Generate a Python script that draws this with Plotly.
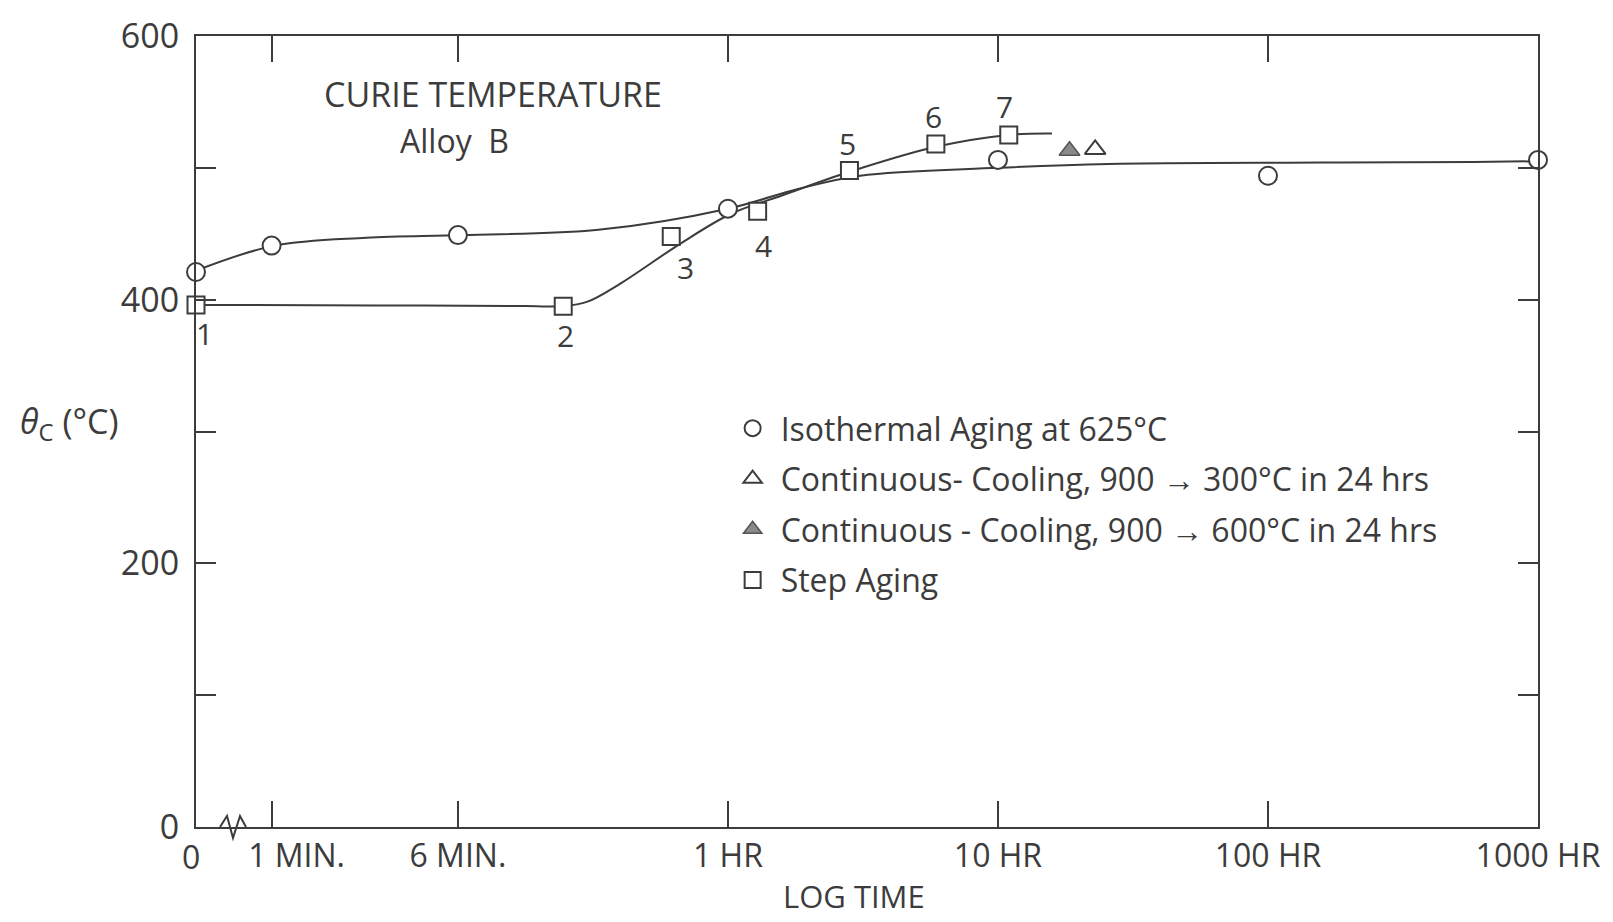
import plotly.graph_objects as go

# ---------------- data ----------------
# x axis is log10(time in hours); the origin "0" and "1 MIN." sit on a broken scale
x_tick_pos = [-1.97, -1.69, -1.0, 0.0, 1.0, 2.0, 3.0]
x_tick_text = ["0", "\u00a0\u00a0\u00a0\u00a0\u00a0\u00a01 MIN.", "6 MIN.", "1 HR", "10 HR", "100 HR", "1000 HR"]
y_tick_vals = [0, 200, 400, 600]
y_tick_text = ["0", "200", "400", "600"]
y_minor_step = 100

# Isothermal aging at 625 C (open circles)
iso_x = [-1.97, -1.69, -1.0, 0.0, 1.0, 2.0, 3.0]
iso_y = [421, 441, 449, 469, 506, 494, 506]

# Step aging (open squares), numbered 1..7
step_x = [-1.97, -0.61, -0.21, 0.11, 0.45, 0.77, 1.04]
step_y = [396, 395, 448, 467, 498, 518, 525]
step_labels = ["1", "2", "3", "4", "5", "6", "7"]

# Continuous cooling, 900 -> 300 C in 24 hrs (open triangle)
cc300_x = [1.36]
cc300_y = [514]
# Continuous cooling, 900 -> 600 C in 24 hrs (filled triangle)
cc600_x = [1.265]
cc600_y = [513]

# hand-drawn trend curves
iso_curve_x = [-1.97, -1.68, -1.34, -0.98, -0.48, 0.0, 0.26, 0.49, 1.0, 1.41, 2.2, 2.76, 3.0]
iso_curve_y = [422, 441, 447, 449, 453, 469, 484, 494, 500, 503, 504, 504.5, 505]
step_curve_x = [-1.97, -1.3, -0.75, -0.61, -0.52, -0.40, -0.18, 0.01, 0.20, 0.45, 0.77, 1.04, 1.20]
step_curve_y = [396, 395.6, 395.2, 395, 398.5, 412, 442, 465, 479, 497, 516, 525, 526]

# ---------------- styling ----------------
INK = "#3c3c3c"
FONT = "Open Sans"
W, H = 1613, 922
ML, MR, MT, MB = 196, 69, 27, 95
PW, PH = W - ML - MR, H - MT - MB


def px_x(px):
    return (px - ML) / PW


def px_y(py):
    return (H - MB - py) / PH


fig = go.Figure()

line_style = dict(color=INK, width=2, shape="spline", smoothing=1.0)
fig.add_trace(go.Scatter(x=iso_curve_x, y=iso_curve_y, mode="lines", line=line_style,
                         showlegend=False, hoverinfo="skip", cliponaxis=False))
fig.add_trace(go.Scatter(x=step_curve_x, y=step_curve_y, mode="lines", line=line_style,
                         showlegend=False, hoverinfo="skip", cliponaxis=False))

mk_line = dict(color=INK, width=2)
fig.add_trace(go.Scatter(x=iso_x, y=iso_y, mode="markers", name="Isothermal Aging at 625°C",
                         legendgroup="a", cliponaxis=False,
                         marker=dict(symbol="circle", size=18, color="white", line=mk_line)))
fig.add_trace(go.Scatter(x=cc300_x, y=cc300_y, mode="markers",
                         name="Continuous- Cooling, 900 → 300°C in 24 hrs", legendgroup="b",
                         cliponaxis=False,
                         marker=dict(symbol="triangle-up", size=18, color="white", line=mk_line)))
fig.add_trace(go.Scatter(x=cc600_x, y=cc600_y, mode="markers",
                         name="Continuous - Cooling, 900 → 600°C in 24 hrs", legendgroup="c",
                         cliponaxis=False,
                         marker=dict(symbol="triangle-up", size=18, color="#8a8a8a",
                                     line=dict(color="#555", width=1.5))))
fig.add_trace(go.Scatter(x=step_x, y=step_y, mode="markers", name="Step Aging", legendgroup="d",
                         cliponaxis=False,
                         marker=dict(symbol="square", size=17, color="white", line=mk_line)))

# number labels next to the step-aging squares (pixel offsets)
label_offsets = [(8, -29), (2, -29), (14, -31), (6, -34), (-2, 27), (-2, 28), (-4, 28)]
for xv, yv, t, (dx, dy) in zip(step_x, step_y, step_labels, label_offsets):
    fig.add_annotation(x=xv, y=yv, text=t, showarrow=False, xshift=dx, yshift=dy,
                       xanchor="center", yanchor="middle",
                       font=dict(size=30, color=INK, family=FONT))

# chart heading
fig.add_annotation(x=px_x(494), y=px_y(86), xref="paper", yref="paper", text="CURIE TEMPERATURE",
                   showarrow=False, xanchor="center", yanchor="middle",
                   font=dict(size=34, color=INK, family=FONT))
fig.add_annotation(x=px_x(456), y=px_y(133), xref="paper", yref="paper", text="Alloy  B",
                   showarrow=False, xanchor="center", yanchor="middle",
                   font=dict(size=32, color=INK, family=FONT))

# axis titles
fig.add_annotation(x=px_x(68), y=px_y(418), xref="paper", yref="paper",
                   text="<i>θ</i><sub>C</sub> (°C)", showarrow=False,
                   xanchor="center", yanchor="middle",
                   font=dict(size=34, color=INK, family=FONT))
fig.add_annotation(x=px_x(857), y=px_y(897), xref="paper", yref="paper", text="LOG TIME",
                   showarrow=False, xanchor="center", yanchor="middle",
                   font=dict(size=31, color=INK, family=FONT))

# axis-break zigzag on the time axis
fig.add_shape(type="path", xref="paper", yref="paper", xsizemode="pixel", ysizemode="pixel",
              xanchor=0, yanchor=0, path="M 24,0 L 31,11 L 37,-11 L 44,11 L 50,0",
              line=dict(color=INK, width=2))

axis_common = dict(showline=True, linecolor=INK, linewidth=2, mirror="ticks", ticks="inside",
                   tickcolor=INK, tickwidth=1.5, showgrid=False, zeroline=False)
fig.update_xaxes(range=[-1.97, 3.0], tickmode="array", tickvals=x_tick_pos[1:],
                 ticktext=x_tick_text[1:], ticklen=26,
                 tickfont=dict(size=32, color=INK, family=FONT), **axis_common)
fig.update_yaxes(range=[0, 600], tickmode="array", tickvals=y_tick_vals, ticktext=y_tick_text,
                 ticklen=20, ticklabelstandoff=8,
                 minor=dict(dtick=y_minor_step, ticks="inside", ticklen=20, tickcolor=INK,
                            tickwidth=1.5),
                 tickfont=dict(size=34, color=INK, family=FONT), **axis_common)
# "0" label at the broken origin (no tick there)
fig.add_annotation(x=x_tick_pos[0], y=0, text=x_tick_text[0], showarrow=False, yshift=-29,
                   xshift=-5, xanchor="center", yanchor="middle",
                   font=dict(size=32, color=INK, family=FONT))

fig.update_layout(
    width=W, height=H,
    margin=dict(l=ML, r=MR, t=MT, b=MB),
    paper_bgcolor="white", plot_bgcolor="white",
    font=dict(family=FONT, color=INK),
    legend=dict(x=px_x(727), y=px_y(396), xanchor="left", yanchor="top",
                bgcolor="rgba(0,0,0,0)", traceorder="grouped", tracegroupgap=6,
                itemwidth=46, font=dict(size=32, color=INK, family=FONT)),
)

fig.write_html("out.html")
